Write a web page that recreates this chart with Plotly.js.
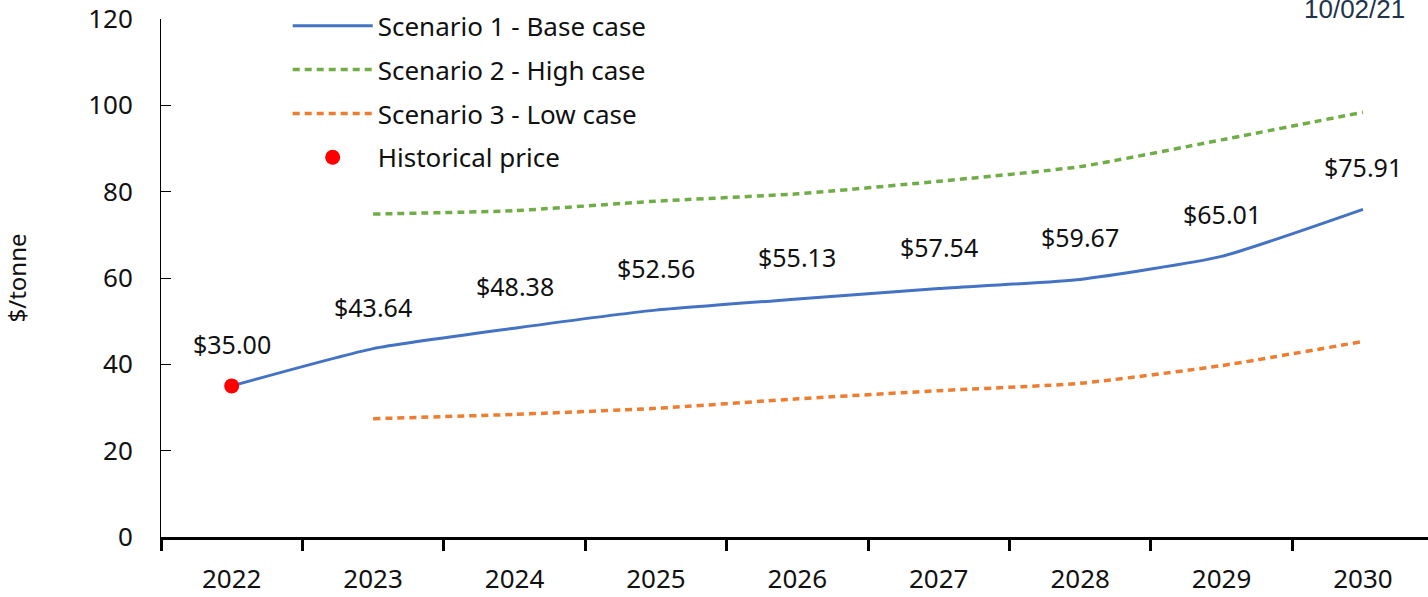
<!DOCTYPE html>
<html>
<head>
<meta charset="utf-8">
<script src="https://cdn.plot.ly/plotly-3.0.1.min.js"></script>
<style>html,body{margin:0;padding:0;background:#fff;}#chart{width:1428px;height:597px;}</style>
</head>
<body>
<div id="chart"></div>
<script>
const years = ['2022','2023','2024','2025','2026','2027','2028','2029','2030'];
const baseCase = [35.00, 43.64, 48.38, 52.56, 55.13, 57.54, 59.67, 65.01, 75.91];
const highYears = ['2023','2024','2025','2026','2027','2028','2029','2030'];
const highCase = [74.8, 75.6, 77.8, 79.5, 82.4, 85.8, 92.0, 98.4];
const lowYears = ['2023','2024','2025','2026','2027','2028','2029','2030'];
const lowCase = [27.4, 28.4, 29.8, 32.0, 33.9, 35.6, 39.7, 45.3];
const histYears = ['2022'];
const histPrice = [35.00];
const yTicks = [0, 20, 40, 60, 80, 100, 120];
const stampText = '10/02/21';

const FONT = 'Noto Sans, Open Sans, sans-serif';

const traces = [
  {x: years, y: baseCase, name: 'Scenario 1 - Base case', mode: 'lines', legendgroup: 'a',
   line: {color: '#4472C4', width: 3, shape: 'spline', smoothing: 0.5}},
  {x: highYears, y: highCase, name: 'Scenario 2 - High case', mode: 'lines', legendgroup: 'b',
   line: {color: '#70AD47', width: 3.5, dash: '7px,5px', shape: 'spline', smoothing: 0.5}},
  {x: lowYears, y: lowCase, name: 'Scenario 3 - Low case', mode: 'lines', legendgroup: 'c',
   line: {color: '#ED7D31', width: 3.5, dash: '7px,5px', shape: 'spline', smoothing: 0.5}},
  {x: histYears, y: histPrice, name: 'Historical price', mode: 'markers', legendgroup: 'd',
   marker: {color: '#FF0000', size: 15}}
];

const annotations = years.map((yr, i) => ({
  x: i, y: baseCase[i], xref: 'x', yref: 'y', text: '$' + baseCase[i].toFixed(2),
  showarrow: false, yshift: 42, font: {family: FONT, size: 25, color: '#111'}
}));
annotations.push({
  xref: 'paper', yref: 'paper', x: 0.942, y: 1.019, xanchor: 'center', yanchor: 'middle',
  text: stampText, showarrow: false,
  font: {family: 'Liberation Sans Narrow, Liberation Sans, Arial, sans-serif', size: 26, color: '#22334a'}
});

const layout = {
  width: 1428, height: 597,
  margin: {l: 161, r: 0, t: 19, b: 60},
  paper_bgcolor: '#fff', plot_bgcolor: '#fff',
  font: {family: FONT, size: 26, color: '#111'},
  showlegend: true,
  legend: {x: 0.1, y: 1.032, xanchor: 'left', yanchor: 'top', bgcolor: 'rgba(0,0,0,0)',
           traceorder: 'grouped', tracegroupgap: 7, itemwidth: 80,
           font: {family: FONT, size: 26, color: '#111'}},
  xaxis: {type: 'category', range: [-0.5, 8.46], showgrid: false, zeroline: false,
          showline: true, linecolor: '#000', linewidth: 3,
          ticks: 'outside', ticklen: 11, tickwidth: 3, tickcolor: '#000', tickson: 'boundaries',
          ticklabelstandoff: 17, tickfont: {family: FONT, size: 26, color: '#111'}},
  yaxis: {range: [0, 120], tickvals: yTicks, showgrid: false, zeroline: false,
          showline: true, linecolor: '#000', linewidth: 1,
          ticks: 'inside', ticklen: 10, tickwidth: 1, tickcolor: '#000',
          ticklabelstandoff: 22, tickfont: {family: FONT, size: 26, color: '#111'},
          title: {text: '$/tonne', standoff: 55, font: {family: FONT, size: 24, color: '#111'}}},
  annotations: annotations
};

Plotly.newPlot('chart', traces, layout, {displayModeBar: false, staticPlot: true});
</script>
</body>
</html>
